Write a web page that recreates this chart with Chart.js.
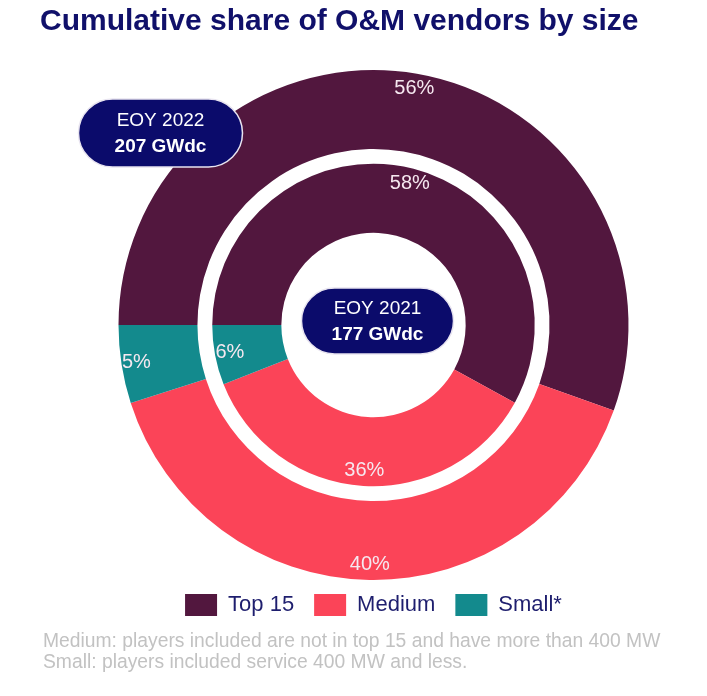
<!DOCTYPE html>
<html>
<head>
<meta charset="utf-8">
<script src="https://cdn.jsdelivr.net/npm/chart.js@4"></script>
<style>
  body { margin: 0; background: #fff; font-family: "Liberation Sans", Arial, sans-serif; }
  #wrap { position: relative; width: 707px; height: 696px; overflow: hidden; }
  #notes { position: absolute; left: 43px; top: 630px; color: #c2c2c2; font-size: 19.3px; line-height: 21px; white-space: nowrap; }
</style>
</head>
<body>
<div id="wrap">
  <canvas id="grafico"></canvas>
  <div id="notes">
    <div>Medium: players included are not in top 15 and have more than 400 MW</div>
    <div>Small: players included service 400 MW and less.</div>
  </div>
</div>
<script>
// categorias e valores (%)
const categorias = ['Top 15', 'Medium', 'Small*'];
const valores2022 = [56, 40, 5];
const valores2021 = [58, 36, 6];
const cores = ['#52173e', '#fb4458', '#138a8d'];

const rotulo2022 = ['EOY 2022', '207 GWdc'];
const rotulo2021 = ['EOY 2021', '177 GWdc'];

const fonte = "'Liberation Sans', Arial, sans-serif";

// escreve as percentagens perto da borda externa de cada anel
const pluginRotulos = {
  id: 'rotulos',
  afterDatasetsDraw(chart) {
    const ctx = chart.ctx;
    ctx.save();
    ctx.fillStyle = '#f6e8f0';
    ctx.font = '20px ' + fonte;
    ctx.textAlign = 'center';
    ctx.textBaseline = 'middle';
    [0, 2].forEach(di => {
      const meta = chart.getDatasetMeta(di);
      const dados = chart.data.datasets[di].data;
      meta.data.forEach((arc, i) => {
        const p = arc.getProps(['x', 'y', 'startAngle', 'endAngle', 'outerRadius']);
        const meio = (p.startAngle + p.endAngle) / 2;
        const r = p.outerRadius - 15;
        ctx.fillText(dados[i] + '%', p.x + Math.cos(meio) * r, p.y + Math.sin(meio) * r);
      });
    });
    ctx.restore();
  }
};

function pilula(ctx, cx, cy, w, h, linhas) {
  ctx.beginPath();
  ctx.roundRect(cx - w / 2, cy - h / 2, w, h, h / 2);
  ctx.fillStyle = '#0b0b6b';
  ctx.fill();
  ctx.lineWidth = 1.5;
  ctx.strokeStyle = '#e8e4f0';
  ctx.stroke();
  ctx.fillStyle = '#ffffff';
  ctx.textAlign = 'center';
  ctx.textBaseline = 'middle';
  ctx.font = '19px ' + fonte;
  ctx.fillText(linhas[0], cx, cy - 12);
  ctx.font = 'bold 19px ' + fonte;
  ctx.fillText(linhas[1], cx, cy + 14);
}

// caixas com o ano e a capacidade
const pluginCaixas = {
  id: 'caixas',
  afterDraw(chart) {
    const arc = chart.getDatasetMeta(0).data[0];
    const cx = arc.x, cy = arc.y;
    const ctx = chart.ctx;
    ctx.save();
    pilula(ctx, cx - 213, cy - 192, 164, 68, rotulo2022);
    pilula(ctx, cx + 4, cy - 4, 152, 66, rotulo2021);
    ctx.restore();
  }
};

new Chart(document.getElementById('grafico'), {
  type: 'doughnut',
  data: {
    labels: categorias,
    datasets: [
      { data: valores2022, backgroundColor: cores, borderWidth: 0, weight: 80, clip: false },
      { data: [1], backgroundColor: ['rgba(0,0,0,0)'], borderWidth: 0, weight: 15, clip: false },
      { data: valores2021, backgroundColor: cores, borderWidth: 0, weight: 70, clip: false }
    ]
  },
  options: {
    responsive: true,
    maintainAspectRatio: false,
    animation: false,
    rotation: -90,
    radius: 255,
    cutout: 90,
    layout: { padding: { left: 40, right: 0, top: 0, bottom: 70 } },
    plugins: {
      title: {
        display: true,
        text: 'Cumulative share of O&M vendors by size',
        align: 'start',
        color: '#10106a',
        font: { size: 30, weight: 'bold', family: fonte },
        padding: { top: 4, bottom: 36 }
      },
      legend: {
        display: true,
        position: 'bottom',
        labels: {
          color: '#1e1e6e',
          boxWidth: 32,
          boxHeight: 22,
          padding: 20,
          font: { size: 22, family: fonte }
        }
      },
      tooltip: { enabled: false }
    }
  },
  plugins: [pluginRotulos, pluginCaixas]
});
</script>
</body>
</html>
